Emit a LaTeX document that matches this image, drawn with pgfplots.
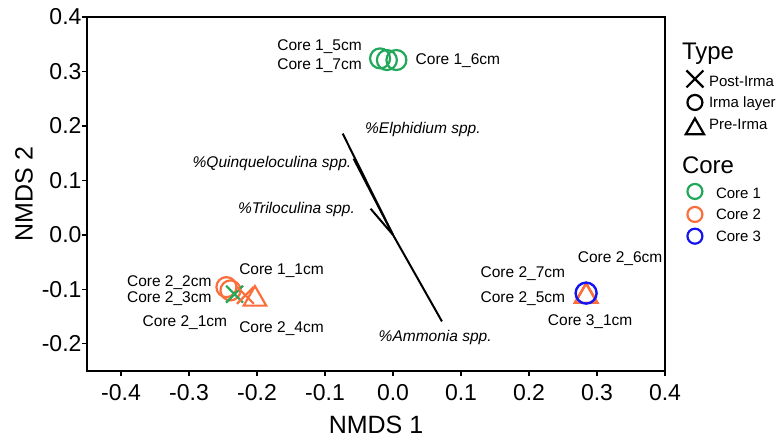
\documentclass[border=0pt]{standalone}
\usepackage{pgfplots}
\pgfplotsset{compat=1.18}
\usepackage{fontspec}
\setmainfont{Liberation Sans}
\definecolor{cgreen}{RGB}{34,168,90}
\definecolor{corange}{RGB}{252,110,60}
\definecolor{cblue}{RGB}{20,20,240}
\newcommand{\lab}{\fontsize{15.5}{17}\selectfont}
\begin{document}
\begin{tikzpicture}
\begin{axis}[
  name=ax,
  scale only axis, width=578pt, height=354pt,
  xmin=-0.45, xmax=0.4, ymin=-0.25, ymax=0.4,
  xtick={-0.4,-0.3,-0.2,-0.1,0,0.1,0.2,0.3,0.4},
  ytick={-0.2,-0.1,0,0.1,0.2,0.3,0.4},
  xtick pos=lower, ytick pos=left,
  tick align=outside, major tick length=5pt,
  tick style={black, line width=1.4pt},
  axis line style={line width=1.8pt},
  tick label style={font=\fontsize{23}{23}\selectfont,
    /pgf/number format/fixed, /pgf/number format/fixed zerofill,
    /pgf/number format/precision=1, /pgf/number format/assume math mode=true},
  xticklabel style={yshift=-5pt},
  yticklabel style={xshift=3pt},
  label style={font=\fontsize{25}{25}\selectfont},
  xlabel={NMDS 1}, ylabel={NMDS 2},
  xlabel style={yshift=-8pt},
  ylabel style={yshift=2pt},
  clip=false,
  legend cell align=left,
  legend style={draw=none, fill=none, at={(1.0305,0.952)}, anchor=north west,
    font=\fontsize{15}{17}\selectfont,
    nodes={inner sep=0pt, outer sep=0pt, text depth=}, row sep=0pt, column sep=5pt},
]
% vectors
\addplot[black, line width=2pt, forget plot] coordinates {(0,0) (-0.074,0.186)};
\addplot[black, line width=2pt, forget plot] coordinates {(0,0) (-0.058,0.140)};
\addplot[black, line width=2pt, forget plot] coordinates {(0,0) (-0.033,0.048)};
\addplot[black, line width=2pt, forget plot] coordinates {(0,0) (0.072,-0.159)};
% Core 1 circles (Irma layer)
\addplot[only marks, mark=o, mark size=10pt, draw=cgreen, line width=2.2pt, forget plot]
  coordinates {(-0.019,0.324) (-0.009,0.321) (0.005,0.321)};
% Core 2 circles
\addplot[only marks, mark=o, mark size=10pt, draw=corange, line width=2.2pt, forget plot]
  coordinates {(-0.245,-0.096) (-0.239,-0.102)};
% Core 1 post-Irma
\addplot[only marks, mark=x, mark size=12pt, draw=cgreen, line width=2.2pt, forget plot]
  coordinates {(-0.233,-0.109)};
% Core 2 post-Irma
\addplot[only marks, mark=x, mark size=12pt, draw=corange, line width=2.2pt, forget plot]
  coordinates {(-0.217,-0.111)};
% Core 2 pre-Irma
\addplot[only marks, mark=triangle, mark size=13pt, draw=corange, line width=2.2pt, forget plot]
  coordinates {(-0.203,-0.118) (0.284,-0.113) (0.284,-0.113) (0.284,-0.113)};
% Core 3 circle
\addplot[only marks, mark=o, mark size=10.5pt, draw=cblue, line width=2.4pt, forget plot]
  coordinates {(0.284,-0.107)};

% legend
\addlegendimage{empty legend}
\addlegendentry{\hspace*{-27pt}\fontsize{24}{24}\selectfont\rule[-6.4pt]{0pt}{30pt}Type}
\addlegendimage{only marks, mark=x, mark size=12pt, black, line width=2.2pt}
\addlegendentry{\rule[-5.1pt]{0pt}{25.5pt}Post-Irma}
\addlegendimage{only marks, mark=o, mark size=7.5pt, black, line width=2.2pt}
\addlegendentry{\rule[-5.6pt]{0pt}{21.5pt}Irma layer}
\addlegendimage{only marks, mark=triangle, mark size=10.5pt, black, line width=2.2pt}
\addlegendentry{\rule[-15.1pt]{0pt}{31.5pt}Pre-Irma}
\addlegendimage{empty legend}
\addlegendentry{\hspace*{-27pt}\fontsize{24}{24}\selectfont\rule[-5.4pt]{0pt}{34.5pt}Core}
\addlegendimage{only marks, mark=o, mark size=7.5pt, cgreen, line width=2.2pt}
\addlegendentry{\hspace*{7pt}\rule[-5.1pt]{0pt}{24.5pt}Core 1}
\addlegendimage{only marks, mark=o, mark size=7.5pt, corange, line width=2.2pt}
\addlegendentry{\hspace*{7pt}\rule[-5.6pt]{0pt}{21.5pt}Core 2}
\addlegendimage{only marks, mark=o, mark size=7.5pt, cblue, line width=2.2pt}
\addlegendentry{\hspace*{7pt}\rule[-5.6pt]{0pt}{22pt}Core 3}

% vector labels
\node[font=\lab\itshape] at (axis cs:0.044,0.193) {\%Elphidium spp.};
\node[font=\lab\itshape] at (axis cs:-0.178,0.131) {\%Quinqueloculina spp.};
\node[font=\lab\itshape] at (axis cs:-0.142,0.046) {\%Triloculina spp.};
\node[font=\lab\itshape] at (axis cs:0.062,-0.189) {\%Ammonia spp.};
% point labels
\node[font=\lab] at (axis cs:-0.108,0.345) {Core 1\_5cm};
\node[font=\lab] at (axis cs:-0.108,0.310) {Core 1\_7cm};
\node[font=\lab] at (axis cs:0.0955,0.319) {Core 1\_6cm};
\node[font=\lab] at (axis cs:-0.164,-0.065) {Core 1\_1cm};
\node[font=\lab] at (axis cs:-0.329,-0.087) {Core 2\_2cm};
\node[font=\lab] at (axis cs:-0.329,-0.118) {Core 2\_3cm};
\node[font=\lab] at (axis cs:-0.306,-0.161) {Core 2\_1cm};
\node[font=\lab] at (axis cs:-0.164,-0.172) {Core 2\_4cm};
\node[font=\lab] at (axis cs:0.191,-0.0705) {Core 2\_7cm};
\node[font=\lab] at (axis cs:0.191,-0.117) {Core 2\_5cm};
\node[font=\lab] at (axis cs:0.334,-0.043) {Core 2\_6cm};
\node[font=\lab] at (axis cs:0.290,-0.159) {Core 3\_1cm};
\coordinate (SW) at (rel axis cs:0,0);
\coordinate (NE) at (rel axis cs:1,1);
\end{axis}
\pgfresetboundingbox
\path[use as bounding box] ([shift={(-87pt,-69pt)}]SW) rectangle ([shift={(114pt,17pt)}]NE);
\end{tikzpicture}
\end{document}
